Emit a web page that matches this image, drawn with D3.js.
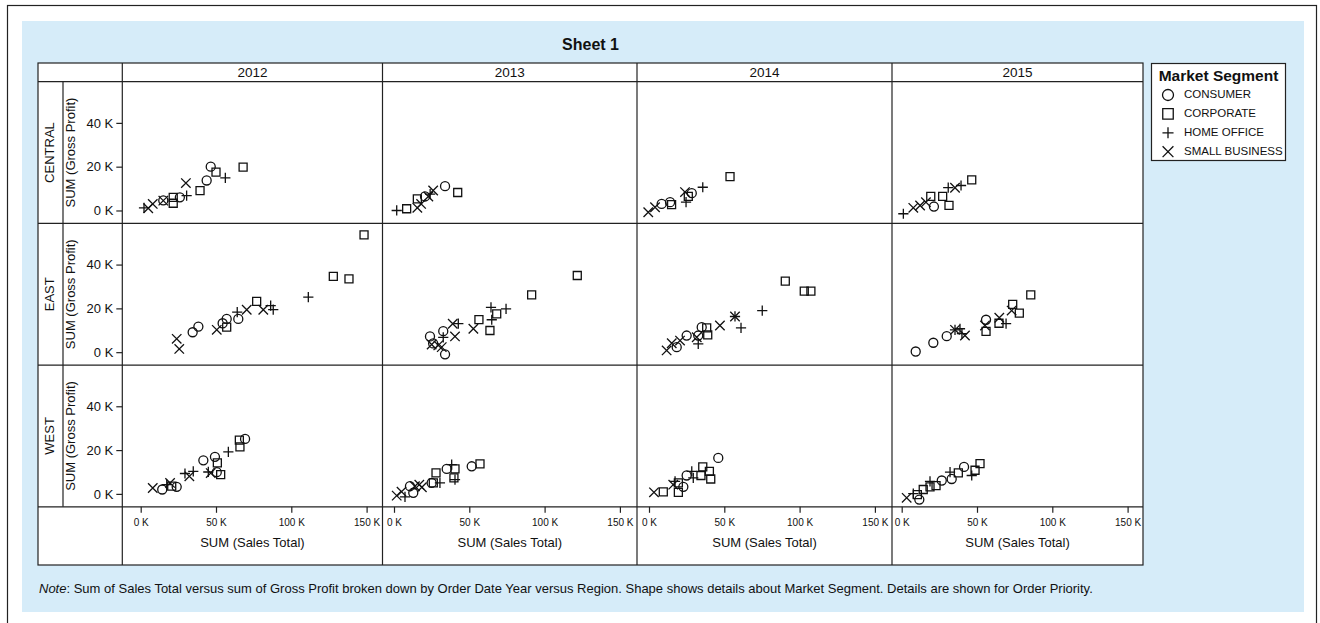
<!DOCTYPE html>
<html>
<head>
<meta charset="utf-8">
<script src="https://cdn.jsdelivr.net/npm/d3@7"></script>
<style>
  body { margin: 0; background: #fff; }
  svg text { font-family: "Liberation Sans", Arial, sans-serif; fill: #111; }
</style>
</head>
<body>
<div id="chart"></div>
<script>
// all money values in thousands
var years = ["2012", "2013", "2014", "2015"];
var regions = ["CENTRAL", "EAST", "WEST"];
var segments = ["CONSUMER", "CORPORATE", "HOME OFFICE", "SMALL BUSINESS"];
var salesTicks = [0, 50, 100, 150];
var profitTicks = [0, 20, 40];

// [year, segment, sales total, gross profit]
var central = [
  ["2012","CONSUMER",15,4.6], ["2012","CONSUMER",26,6], ["2012","CONSUMER",43.8,13.7], ["2012","CONSUMER",46.5,20],
  ["2012","CORPORATE",21.6,3.3], ["2012","CORPORATE",21.6,6], ["2012","CORPORATE",39.4,9.1], ["2012","CORPORATE",50,17.5], ["2012","CORPORATE",68,19.8],
  ["2012","HOME OFFICE",2.2,1.2], ["2012","HOME OFFICE",30.5,6.8], ["2012","HOME OFFICE",56.2,14.9],
  ["2012","SMALL BUSINESS",5,1], ["2012","SMALL BUSINESS",8,3], ["2012","SMALL BUSINESS",15,4.5], ["2012","SMALL BUSINESS",30,12.5],
  ["2013","CONSUMER",20.6,6.4], ["2013","CONSUMER",33.9,11.1],
  ["2013","CORPORATE",8.4,0.8], ["2013","CORPORATE",15.5,5.3], ["2013","CORPORATE",42.3,8.2],
  ["2013","HOME OFFICE",1.8,0], ["2013","HOME OFFICE",24,7.5],
  ["2013","SMALL BUSINESS",15.5,1.2], ["2013","SMALL BUSINESS",18,3], ["2013","SMALL BUSINESS",22.8,6.4], ["2013","SMALL BUSINESS",26,9.1],
  ["2014","CONSUMER",8.4,3], ["2014","CONSUMER",14,3.8], ["2014","CONSUMER",28.4,7.9],
  ["2014","CORPORATE",15,2.7], ["2014","CORPORATE",26.1,6.4], ["2014","CORPORATE",53.8,15.5],
  ["2014","HOME OFFICE",24.6,3.8], ["2014","HOME OFFICE",35.7,10.6],
  ["2014","SMALL BUSINESS",-0.5,-0.8], ["2014","SMALL BUSINESS",4,1.5], ["2014","SMALL BUSINESS",23.9,8.4],
  ["2015","CONSUMER",21.4,1.8],
  ["2015","CORPORATE",19.3,6.4], ["2015","CORPORATE",27.2,6.4], ["2015","CORPORATE",31.4,2.3], ["2015","CORPORATE",46.5,14],
  ["2015","HOME OFFICE",1.1,-1.5], ["2015","HOME OFFICE",30.9,10.4], ["2015","HOME OFFICE",39.4,11.4],
  ["2015","SMALL BUSINESS",7.7,1.2], ["2015","SMALL BUSINESS",12.2,2.3], ["2015","SMALL BUSINESS",16.1,3.8], ["2015","SMALL BUSINESS",35.4,10.4]
];

var east = [
  ["2012","CONSUMER",34.5,9.1], ["2012","CONSUMER",38.3,11.7], ["2012","CONSUMER",54.4,13.2], ["2012","CONSUMER",57.1,15.2], ["2012","CONSUMER",64.8,15.2],
  ["2012","CORPORATE",57.1,11.4], ["2012","CORPORATE",77,23.2], ["2012","CORPORATE",127.9,34.6], ["2012","CORPORATE",138.3,33.5], ["2012","CORPORATE",148.3,53.6],
  ["2012","HOME OFFICE",64.1,18.3], ["2012","HOME OFFICE",86.3,21.3], ["2012","HOME OFFICE",88,19.4], ["2012","HOME OFFICE",111.3,25.1],
  ["2012","SMALL BUSINESS",23.9,6.1], ["2012","SMALL BUSINESS",25.6,1.5], ["2012","SMALL BUSINESS",50.5,10.2], ["2012","SMALL BUSINESS",70.4,19.4], ["2012","SMALL BUSINESS",81.4,19.4],
  ["2013","CONSUMER",23.9,7.2], ["2013","CONSUMER",32.7,9.6], ["2013","CONSUMER",33.9,-1], ["2013","CONSUMER",26,4],
  ["2013","CORPORATE",56.4,14.9], ["2013","CORPORATE",63.7,9.9], ["2013","CORPORATE",68.2,17.5], ["2013","CORPORATE",91.4,26.2], ["2013","CORPORATE",121.7,35],
  ["2013","HOME OFFICE",32.7,6.8], ["2013","HOME OFFICE",42.7,13], ["2013","HOME OFFICE",64.4,20.5], ["2013","HOME OFFICE",64.9,14.8], ["2013","HOME OFFICE",74.4,19.8],
  ["2013","SMALL BUSINESS",25,3.5], ["2013","SMALL BUSINESS",29.4,3.1], ["2013","SMALL BUSINESS",31.7,2.3], ["2013","SMALL BUSINESS",40.5,7.2], ["2013","SMALL BUSINESS",39,13], ["2013","SMALL BUSINESS",52.7,10.7],
  ["2014","CONSUMER",18.4,2.3], ["2014","CONSUMER",25,7.6], ["2014","CONSUMER",32.7,7.6], ["2014","CONSUMER",35,11.4],
  ["2014","CORPORATE",38.3,11.1], ["2014","CORPORATE",39,7.9], ["2014","CORPORATE",90.5,32.4], ["2014","CORPORATE",103.1,27.9], ["2014","CORPORATE",107.5,27.9],
  ["2014","HOME OFFICE",32.7,3.8], ["2014","HOME OFFICE",57.1,16.3], ["2014","HOME OFFICE",61.1,11.1], ["2014","HOME OFFICE",75.2,19],
  ["2014","SMALL BUSINESS",11.7,0.8], ["2014","SMALL BUSINESS",15.1,4.1], ["2014","SMALL BUSINESS",20.6,5.3], ["2014","SMALL BUSINESS",31.7,6.8], ["2014","SMALL BUSINESS",47.1,12.2], ["2014","SMALL BUSINESS",57.1,16.3],
  ["2015","CONSUMER",9.3,0.3], ["2015","CONSUMER",21,4.3], ["2015","CONSUMER",29.9,7.3], ["2015","CONSUMER",56,14.8],
  ["2015","CORPORATE",56,9.5], ["2015","CORPORATE",64.6,13.2], ["2015","CORPORATE",73.7,21.8], ["2015","CORPORATE",78.1,17.8], ["2015","CORPORATE",85.7,26.2],
  ["2015","HOME OFFICE",35.4,10.2], ["2015","HOME OFFICE",38.7,10.7], ["2015","HOME OFFICE",40,8.5], ["2015","HOME OFFICE",69.3,13],
  ["2015","SMALL BUSINESS",35.4,10.2], ["2015","SMALL BUSINESS",42,7.6], ["2015","SMALL BUSINESS",55.3,12.2], ["2015","SMALL BUSINESS",64.8,15.7], ["2015","SMALL BUSINESS",73,19]
];

var west = [
  ["2012","CONSUMER",14.3,2], ["2012","CONSUMER",23.9,3.2], ["2012","CONSUMER",41.6,15.3], ["2012","CONSUMER",49.3,16.9], ["2012","CONSUMER",50.5,9.9], ["2012","CONSUMER",69.3,25.1],
  ["2012","CORPORATE",20.6,3.5], ["2012","CORPORATE",50.9,14.2], ["2012","CORPORATE",53.1,8.8], ["2012","CORPORATE",65.9,21.5], ["2012","CORPORATE",65.5,24.5],
  ["2012","HOME OFFICE",17.3,4.2], ["2012","HOME OFFICE",29.4,9.3], ["2012","HOME OFFICE",34.9,10.3], ["2012","HOME OFFICE",44.9,10], ["2012","HOME OFFICE",58.2,19.2],
  ["2012","SMALL BUSINESS",8,2.7], ["2012","SMALL BUSINESS",19.5,5], ["2012","SMALL BUSINESS",32.3,8], ["2012","SMALL BUSINESS",46.5,9.5],
  ["2013","CONSUMER",10.6,3.5], ["2013","CONSUMER",12.8,0.5], ["2013","CONSUMER",25,5], ["2013","CONSUMER",35,11.4], ["2013","CONSUMER",51.6,12.6],
  ["2013","CORPORATE",26.1,5], ["2013","CORPORATE",27.9,9.6], ["2013","CORPORATE",40.5,11.4], ["2013","CORPORATE",39.8,7.3], ["2013","CORPORATE",57.1,13.7],
  ["2013","HOME OFFICE",7.3,-1.4], ["2013","HOME OFFICE",30.5,5], ["2013","HOME OFFICE",38.3,13.4], ["2013","HOME OFFICE",40.5,6.5],
  ["2013","SMALL BUSINESS",1.8,-0.8], ["2013","SMALL BUSINESS",5,1], ["2013","SMALL BUSINESS",13.9,3.5], ["2013","SMALL BUSINESS",16.8,4.2], ["2013","SMALL BUSINESS",18.5,3],
  ["2014","CONSUMER",22.8,3.2], ["2014","CONSUMER",25,8.4], ["2014","CONSUMER",46,16.4],
  ["2014","CORPORATE",9.5,0.9], ["2014","CORPORATE",19.5,0.7], ["2014","CORPORATE",19.5,5], ["2014","CORPORATE",34.5,8.4], ["2014","CORPORATE",35.7,12.3], ["2014","CORPORATE",40.1,10.3], ["2014","CORPORATE",41,6.8],
  ["2014","HOME OFFICE",17.3,5.7], ["2014","HOME OFFICE",28.4,10.3], ["2014","HOME OFFICE",29.4,7.3],
  ["2014","SMALL BUSINESS",3.3,0.7], ["2014","SMALL BUSINESS",16.1,4.2],
  ["2015","CONSUMER",11.7,-2.6], ["2015","CONSUMER",26.6,6.1], ["2015","CONSUMER",33.2,6.8], ["2015","CONSUMER",41.4,12.3],
  ["2015","CORPORATE",10.4,-0.3], ["2015","CORPORATE",14.3,2], ["2015","CORPORATE",18.8,3.2], ["2015","CORPORATE",22.8,3.8], ["2015","CORPORATE",37.6,9.6], ["2015","CORPORATE",48.7,10.8], ["2015","CORPORATE",52,13.8],
  ["2015","HOME OFFICE",7.7,0.1], ["2015","HOME OFFICE",18.8,5.7], ["2015","HOME OFFICE",32.1,9.9], ["2015","HOME OFFICE",46.5,8.4],
  ["2015","SMALL BUSINESS",3.3,-1.8]
];

var regionData = [central, east, west];

// layout of the crosstab
var W = 1320, H = 623;
var tableL = 38, tableT = 63, tableR = 1143, tableB = 565;
var labelColX = 63;
var colEdges = [122.3, 382.5, 637, 892, 1143];
var zeroOffset = [18.4, 11.5, 12, 9.7];   // where 0 K sits inside each column
var headerB = 81.7, rowH = 141.7;

var svg = d3.select("#chart").append("svg")
    .attr("width", W)
    .attr("height", H);

svg.append("rect")
    .attr("x", 7.5).attr("y", 5.5)
    .attr("width", 1309).attr("height", 620)
    .attr("fill", "#fff").attr("stroke", "#222").attr("stroke-width", 1.2);

svg.append("rect")
    .attr("x", 22).attr("y", 21)
    .attr("width", 1282).attr("height", 591)
    .attr("fill", "#d6ecf9");

svg.append("rect")
    .attr("x", tableL).attr("y", tableT)
    .attr("width", tableR - tableL).attr("height", tableB - tableT)
    .attr("fill", "#fff").attr("stroke", "#222").attr("stroke-width", 1.2);

// title
svg.append("text")
    .attr("x", (tableL + tableR) / 2)
    .attr("y", 46)
    .attr("text-anchor", "middle")
    .attr("dominant-baseline", "middle")
    .style("font-size", "16px")
    .style("font-weight", "bold")
    .text("Sheet 1");

var lines = svg.append("g")
    .attr("stroke", "#222")
    .attr("stroke-width", 1.2);

// horizontal grid lines
var hLines = [headerB];
regions.forEach(function(r, i) { hLines.push(headerB + rowH * (i + 1)); });
hLines.forEach(function(y) {
  lines.append("line").attr("x1", tableL).attr("x2", tableR).attr("y1", y).attr("y2", y);
});
lines.append("line").attr("x1", labelColX).attr("x2", labelColX)
    .attr("y1", headerB).attr("y2", headerB + rowH * regions.length);
colEdges.slice(0, 4).forEach(function(x) {
  lines.append("line").attr("x1", x).attr("x2", x).attr("y1", tableT).attr("y2", tableB);
});

// scales
var xScales = years.map(function(yr, c) {
  var x0 = colEdges[c] + zeroOffset[c];
  return d3.scaleLinear().domain([0, 150]).range([x0, x0 + 225.9]);
});
var yScales = regions.map(function(r, i) {
  var bottom = headerB + rowH * (i + 1);
  return d3.scaleLinear().domain([-5.9, 58.8]).range([bottom, bottom - rowH]);
});

// column headers
years.forEach(function(yr, c) {
  svg.append("text")
      .attr("x", (colEdges[c] + colEdges[c + 1]) / 2)
      .attr("y", (tableT + headerB) / 2 + 1)
      .attr("text-anchor", "middle")
      .attr("dominant-baseline", "middle")
      .style("font-size", "13.5px")
      .text(yr);
});

var kFormat = function(d) { return d + " K"; };

// rows: labels + y axis
regions.forEach(function(r, i) {
  var mid = headerB + rowH * i + rowH / 2;
  svg.append("text")
      .attr("transform", "translate(51," + mid + ") rotate(-90)")
      .attr("text-anchor", "middle")
      .attr("dominant-baseline", "middle")
      .style("font-size", "13px")
      .text(r);
  svg.append("text")
      .attr("transform", "translate(72," + mid + ") rotate(-90)")
      .attr("text-anchor", "middle")
      .attr("dominant-baseline", "middle")
      .style("font-size", "13px")
      .text("SUM (Gross Profit)");

  var yAxis = d3.axisLeft(yScales[i])
      .tickValues(profitTicks)
      .tickFormat(kFormat)
      .tickSize(6)
      .tickPadding(3);
  var ga = svg.append("g")
      .attr("transform", "translate(" + colEdges[0] + ",0)")
      .call(yAxis);
  ga.select(".domain").remove();
  ga.selectAll("line").attr("stroke", "#222").attr("stroke-width", 1.2);
  ga.selectAll("text").style("font-size", "13px").attr("font-family", null).attr("fill", "#111");
});

// bottom axes
years.forEach(function(yr, c) {
  var xAxis = d3.axisBottom(xScales[c])
      .tickValues(salesTicks)
      .tickFormat(kFormat)
      .tickSize(6)
      .tickPadding(6);
  var ga = svg.append("g")
      .attr("transform", "translate(0," + hLines[hLines.length - 1] + ")")
      .call(xAxis);
  ga.select(".domain").remove();
  ga.selectAll("line").attr("stroke", "#222").attr("stroke-width", 1.2);
  ga.selectAll("text").style("font-size", "10px").attr("font-family", null).attr("fill", "#111");

  svg.append("text")
      .attr("x", (colEdges[c] + colEdges[c + 1]) / 2)
      .attr("y", 547)
      .attr("text-anchor", "middle")
      .style("font-size", "13px")
      .text("SUM (Sales Total)");
});

// marks
var shapeOf = {
  "CONSUMER": d3.symbolCircle,
  "CORPORATE": d3.symbolSquare,
  "HOME OFFICE": d3.symbolPlus,
  "SMALL BUSINESS": d3.symbolTimes
};
var sizeOf = { "CONSUMER": 64, "CORPORATE": 64, "HOME OFFICE": 36, "SMALL BUSINESS": 60 };

regionData.forEach(function(rows, i) {
  svg.append("g").selectAll("path")
      .data(rows)
    .enter().append("path")
      .attr("transform", function(d) {
        var c = years.indexOf(d[0]);
        return "translate(" + xScales[c](d[2]) + "," + yScales[i](d[3]) + ")";
      })
      .attr("d", function(d) { return d3.symbol(shapeOf[d[1]], sizeOf[d[1]])(); })
      .attr("fill", "none")
      .attr("stroke", "#111")
      .attr("stroke-width", 1.3);
});

// legend
var legend = svg.append("g");
legend.append("rect")
    .attr("x", 1151.5).attr("y", 63.5)
    .attr("width", 134).attr("height", 97)
    .attr("fill", "#fff").attr("stroke", "#222").attr("stroke-width", 1.2);
legend.append("text")
    .attr("x", 1218.5).attr("y", 77)
    .attr("text-anchor", "middle")
    .attr("dominant-baseline", "middle")
    .style("font-size", "15.5px")
    .style("font-weight", "bold")
    .text("Market Segment");
var legendSize = { "CONSUMER": 95, "CORPORATE": 110, "HOME OFFICE": 42, "SMALL BUSINESS": 78 };
segments.forEach(function(s, k) {
  var y = 95 + k * 18.9;
  legend.append("path")
      .attr("transform", "translate(1168," + y + ")")
      .attr("d", d3.symbol(shapeOf[s], legendSize[s])())
      .attr("fill", "none")
      .attr("stroke", "#111")
      .attr("stroke-width", 1.3);
  legend.append("text")
      .attr("x", 1184)
      .attr("y", y)
      .attr("dominant-baseline", "middle")
      .style("font-size", "11.5px")
      .text(s);
});

// note
var note = svg.append("text")
    .attr("x", 39)
    .attr("y", 593)
    .style("font-size", "13px");
note.append("tspan").style("font-style", "italic").text("Note");
note.append("tspan").text(": Sum of Sales Total versus sum of Gross Profit broken down by Order Date Year versus Region. Shape shows details about Market Segment. Details are shown for Order Priority.");
</script>
</body>
</html>
